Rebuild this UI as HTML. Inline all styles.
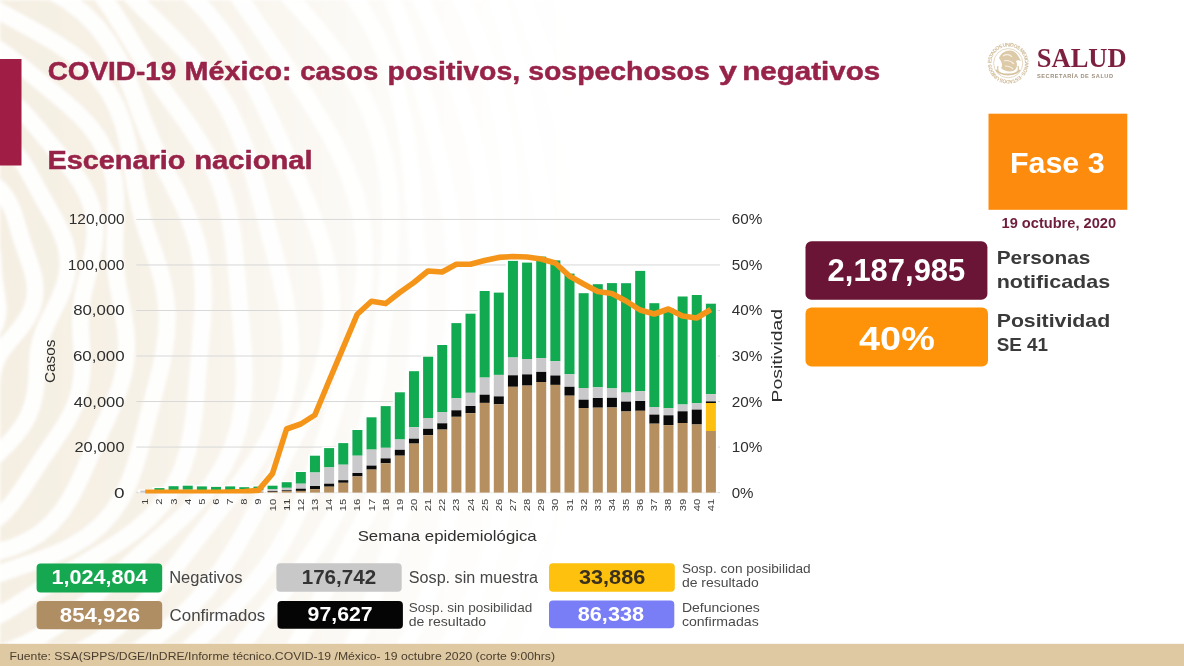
<!DOCTYPE html>
<html><head><meta charset="utf-8"><title>COVID-19 México</title>
<style>
html,body{margin:0;padding:0;background:#fff;}
body{width:1184px;height:666px;overflow:hidden;font-family:"Liberation Sans",sans-serif;}
svg{display:block;}
</style></head><body>
<svg width="1184" height="666" viewBox="0 0 1184 666">
<defs><linearGradient id="fadeg" x1="0" y1="0" x2="1184" y2="0" gradientUnits="userSpaceOnUse"><stop offset="0" stop-color="#fff" stop-opacity="1"/><stop offset="0.1" stop-color="#fff" stop-opacity="0.9"/><stop offset="0.2" stop-color="#fff" stop-opacity="0.62"/><stop offset="0.3" stop-color="#fff" stop-opacity="0.32"/><stop offset="0.4" stop-color="#fff" stop-opacity="0.1"/><stop offset="0.5" stop-color="#fff" stop-opacity="0"/></linearGradient><filter id="soft" x="-0.05" y="-0.05" width="1.1" height="1.1"><feGaussianBlur stdDeviation="1.6"/></filter><mask id="fadem" maskUnits="userSpaceOnUse" x="0" y="0" width="1184" height="666"><rect x="0" y="0" width="1184" height="666" fill="url(#fadeg)"/></mask></defs>
<rect x="0" y="0" width="1184" height="666" fill="#ffffff"/>
<g mask="url(#fadem)"><g filter="url(#soft)">
<rect x="0" y="0" width="760" height="644" fill="#f5efe3"/>
<path d="M -150.0,157.2 L -142.6,159.2 L -135.4,160.6 L -128.1,161.7 L -120.8,162.7 L -113.6,164.3 L -106.7,166.8 L -100.3,170.6 L -94.6,175.5 L -89.6,181.4 L -85.2,187.7 L -81.2,194.0 L -77.1,199.7 L -72.5,204.4 L -67.1,208.0 L -60.7,210.7 L -53.2,212.8 L -44.9,214.9 L -36.4,217.5 L -28.3,221.0 L -21.2,225.6 L -15.5,231.5 L -11.4,238.3 L -8.8,245.8 L -7.5,253.7 L -6.9,261.6 L -6.5,269.5 L -5.9,277.2 L -4.9,284.8 L -3.7,292.3 L -2.5,300.0 L -1.8,307.8 L -2.2,315.5 L -4.0,323.1 L -7.6,330.3 L -12.7,336.8 L -19.0,342.6 L -25.9,347.6 L -32.8,352.2 L -38.9,356.6 L -43.8,361.3 L -47.5,366.6 L -49.9,372.7 L -51.6,379.7 L -53.0,387.3 L -54.8,395.2 L -57.3,402.9 L -61.0,409.9 L -65.8,415.9 L -71.5,420.8 L -78.0,424.7 L -84.8,427.9 L -91.7,430.9 L -98.6,434.0 L -105.3,437.5 L -112.1,441.5 L -119.0,445.8 L -126.3,449.8 L -133.9,453.0 L -141.9,454.7 L -150.0,454.6" fill="none" stroke="#ffffff" stroke-width="17" opacity="0.9"/>
<path d="M -150.0,122.7 L -140.7,122.7 L -131.4,123.4 L -122.4,125.5 L -113.6,128.9 L -105.5,133.8 L -97.9,139.7 L -90.9,146.1 L -84.3,152.4 L -77.6,158.0 L -70.6,162.6 L -62.9,166.0 L -54.4,168.4 L -45.0,170.3 L -35.0,172.3 L -25.0,175.0 L -15.3,178.7 L -6.6,183.9 L 0.8,190.5 L 6.7,198.3 L 11.2,206.9 L 14.7,216.1 L 17.5,225.4 L 20.2,234.7 L 23.1,243.8 L 26.2,252.8 L 29.4,261.9 L 32.4,271.1 L 34.5,280.6 L 35.3,290.3 L 34.4,300.0 L 31.5,309.5 L 26.9,318.6 L 21.1,327.1 L 14.6,335.0 L 8.2,342.4 L 2.5,349.6 L -1.9,356.8 L -5.1,364.5 L -7.1,372.8 L -8.5,381.7 L -9.8,391.1 L -11.5,400.6 L -14.3,409.9 L -18.4,418.5 L -23.8,426.2 L -30.2,433.0 L -37.5,438.9 L -45.1,444.3 L -52.9,449.6 L -60.5,455.1 L -68.0,460.9 L -75.6,467.2 L -83.4,473.5 L -91.7,479.4 L -100.6,484.2 L -110.2,487.4 L -120.1,488.6 L -130.3,487.5 L -140.3,484.4 L -150.0,479.7" fill="none" stroke="#ffffff" stroke-width="17" opacity="0.9"/>
<path d="M -150.0,86.7 L -139.0,89.3 L -128.3,93.4 L -118.1,98.6 L -108.4,104.3 L -99.1,109.9 L -89.8,114.7 L -80.3,118.4 L -70.3,121.0 L -59.6,122.6 L -48.3,123.8 L -36.5,125.2 L -24.7,127.5 L -13.3,131.1 L -2.7,136.4 L 6.7,143.3 L 14.8,151.6 L 21.7,160.9 L 27.8,170.8 L 33.4,180.9 L 38.8,191.0 L 44.4,201.0 L 50.1,210.9 L 55.8,221.0 L 60.9,231.5 L 65.0,242.4 L 67.5,253.8 L 68.1,265.5 L 66.6,277.2 L 63.3,288.8 L 58.7,300.0 L 53.4,310.7 L 48.2,320.8 L 43.8,330.7 L 40.5,340.5 L 38.4,350.5 L 37.4,360.9 L 36.9,371.7 L 36.3,382.9 L 34.9,394.2 L 32.3,405.3 L 28.3,415.8 L 22.8,425.6 L 16.2,434.6 L 8.7,442.9 L 0.8,450.8 L -7.1,458.7 L -14.9,466.9 L -22.6,475.4 L -30.4,484.1 L -38.7,492.8 L -47.6,500.9 L -57.5,507.9 L -68.2,513.0 L -79.8,516.0 L -91.9,516.7 L -104.2,515.4 L -116.3,512.5 L -128.1,508.7 L -139.3,504.9 L -150.0,501.5" fill="none" stroke="#ffffff" stroke-width="17" opacity="0.9"/>
<path d="M -150.0,60.8 L -137.7,65.0 L -125.7,69.1 L -114.0,72.4 L -102.1,74.6 L -89.9,75.7 L -77.2,75.9 L -64.0,75.9 L -50.4,76.2 L -36.7,77.7 L -23.4,80.7 L -10.8,85.6 L 0.9,92.3 L 11.5,100.5 L 21.2,109.9 L 30.2,119.8 L 38.8,130.0 L 47.3,140.2 L 55.9,150.4 L 64.5,160.7 L 73.0,171.3 L 80.7,182.5 L 87.1,194.4 L 91.9,207.2 L 94.5,220.5 L 95.1,234.3 L 93.7,248.2 L 91.1,261.8 L 87.8,275.0 L 84.6,287.7 L 82.1,300.0 L 80.7,312.1 L 80.4,324.2 L 81.0,336.6 L 81.8,349.3 L 82.3,362.3 L 81.9,375.3 L 80.0,388.3 L 76.6,400.9 L 71.5,412.9 L 65.3,424.3 L 58.2,435.2 L 50.9,445.9 L 43.4,456.6 L 36.2,467.6 L 28.9,478.9 L 21.4,490.4 L 13.3,501.7 L 4.2,512.3 L -6.1,521.6 L -17.7,529.1 L -30.5,534.5 L -44.2,537.6 L -58.4,538.7 L -72.6,538.3 L -86.5,537.1 L -99.9,535.7 L -112.8,534.8 L -125.3,534.7 L -137.7,535.4 L -150.0,536.7" fill="none" stroke="#ffffff" stroke-width="17" opacity="0.9"/>
<path d="M -150.0,33.9 L -136.1,33.9 L -121.9,32.8 L -107.4,31.1 L -92.5,29.3 L -77.2,28.1 L -61.7,28.3 L -46.4,30.2 L -31.6,34.2 L -17.5,40.0 L -4.2,47.5 L 8.3,56.2 L 20.4,65.5 L 32.2,75.0 L 43.9,84.6 L 55.7,94.3 L 67.5,104.2 L 78.9,114.7 L 89.4,126.0 L 98.6,138.5 L 106.0,152.2 L 111.3,166.9 L 114.5,182.2 L 115.8,198.0 L 115.8,213.6 L 115.2,228.9 L 114.7,243.7 L 114.9,258.1 L 116.0,272.0 L 118.0,286.0 L 120.7,300.0 L 123.4,314.3 L 125.6,329.0 L 126.6,343.8 L 126.0,358.7 L 123.6,373.3 L 119.7,387.6 L 114.5,401.5 L 108.6,415.2 L 102.4,428.6 L 96.3,442.2 L 90.2,456.0 L 84.1,470.1 L 77.6,484.3 L 70.2,498.3 L 61.6,511.6 L 51.3,523.6 L 39.3,533.8 L 25.8,541.9 L 11.0,548.0 L -4.5,552.1 L -20.2,554.8 L -35.7,556.7 L -50.8,558.5 L -65.3,560.7 L -79.4,563.4 L -93.3,566.8 L -107.2,570.4 L -121.2,573.8 L -135.5,576.5 L -150.0,577.9" fill="none" stroke="#ffffff" stroke-width="17" opacity="0.9"/>
<path d="M -150.0,-8.9 L -133.6,-12.9 L -116.8,-16.1 L -99.7,-17.8 L -82.5,-17.5 L -65.6,-15.1 L -49.0,-10.7 L -33.1,-4.7 L -17.6,2.5 L -2.4,10.4 L 12.5,18.5 L 27.5,26.7 L 42.5,35.1 L 57.4,43.9 L 71.8,53.6 L 85.4,64.6 L 97.7,77.0 L 108.1,91.0 L 116.4,106.4 L 122.7,122.9 L 127.3,139.9 L 130.6,157.0 L 133.3,173.9 L 136.1,190.2 L 139.5,205.9 L 143.6,221.3 L 148.5,236.5 L 153.8,251.9 L 158.9,267.5 L 163.2,283.6 L 166.1,300.0 L 167.3,316.6 L 166.7,333.3 L 164.5,349.8 L 161.2,366.1 L 157.1,382.3 L 152.9,398.4 L 148.7,414.7 L 144.6,431.2 L 140.3,447.9 L 135.4,464.8 L 129.4,481.5 L 121.8,497.5 L 112.2,512.3 L 100.4,525.5 L 86.8,536.8 L 71.6,546.1 L 55.5,553.7 L 38.9,560.0 L 22.5,565.6 L 6.5,571.1 L -9.0,576.7 L -24.1,582.8 L -39.0,589.2 L -53.9,595.7 L -69.2,601.6 L -84.8,606.6 L -100.9,610.1 L -117.2,612.0 L -133.6,612.4 L -150.0,611.6" fill="none" stroke="#ffffff" stroke-width="17" opacity="0.9"/>
<path d="M -150.0,-57.7 L -131.2,-59.7 L -112.2,-59.4 L -93.4,-57.1 L -74.9,-53.2 L -56.7,-48.3 L -38.7,-42.7 L -20.7,-36.8 L -2.7,-30.8 L 15.3,-24.4 L 33.2,-17.4 L 50.7,-9.1 L 67.4,0.8 L 82.8,12.5 L 96.5,26.3 L 108.2,41.8 L 118.1,58.6 L 126.4,76.2 L 133.5,94.1 L 140.0,111.7 L 146.6,128.8 L 153.6,145.3 L 161.2,161.4 L 169.4,177.4 L 177.7,193.5 L 185.5,210.1 L 192.4,227.2 L 197.7,244.9 L 201.3,263.1 L 203.0,281.5 L 203.3,300.0 L 202.4,318.5 L 201.0,336.9 L 199.4,355.3 L 197.9,373.9 L 196.4,392.8 L 194.6,412.0 L 192.0,431.3 L 188.0,450.5 L 182.0,469.1 L 173.6,486.8 L 162.8,503.1 L 149.7,517.8 L 134.9,530.7 L 118.9,542.1 L 102.4,552.4 L 85.9,562.0 L 69.8,571.4 L 54.1,580.9 L 38.7,590.6 L 23.5,600.4 L 8.0,610.1 L -8.0,619.0 L -24.6,626.7 L -41.8,632.9 L -59.6,637.4 L -77.7,640.4 L -95.8,642.2 L -113.9,643.4 L -131.9,644.6 L -150.0,646.0" fill="none" stroke="#ffffff" stroke-width="17" opacity="0.9"/>
<path d="M -150.0,-96.4 L -129.3,-95.4 L -108.7,-93.4 L -88.1,-90.8 L -67.5,-88.0 L -46.9,-84.9 L -26.1,-81.2 L -5.4,-76.6 L 15.0,-70.5 L 34.6,-62.4 L 53.2,-52.0 L 70.3,-39.2 L 85.7,-24.4 L 99.4,-8.0 L 111.7,9.4 L 122.9,27.1 L 133.6,44.7 L 144.2,61.8 L 155.2,78.3 L 166.6,94.4 L 178.3,110.5 L 189.9,126.8 L 200.8,143.8 L 210.6,161.6 L 218.9,180.2 L 225.3,199.4 L 230.0,219.2 L 233.3,239.3 L 235.6,259.5 L 237.4,279.7 L 239.1,300.0 L 241.0,320.5 L 242.7,341.3 L 244.0,362.4 L 244.3,383.8 L 242.8,405.3 L 239.1,426.4 L 232.6,446.9 L 223.5,466.3 L 211.8,484.3 L 198.1,501.0 L 183.2,516.4 L 167.6,530.7 L 151.9,544.5 L 136.5,558.0 L 121.5,571.5 L 106.6,585.0 L 91.7,598.5 L 76.3,611.5 L 60.2,623.7 L 43.1,634.5 L 25.2,643.8 L 6.5,651.4 L -12.7,657.6 L -32.1,662.7 L -51.6,667.3 L -70.9,671.9 L -90.3,676.9 L -109.8,682.3 L -129.7,688.1 L -150.0,693.6" fill="none" stroke="#ffffff" stroke-width="17" opacity="0.9"/>
<path d="M -150.0,-131.2 L -127.4,-132.0 L -104.5,-132.5 L -81.5,-132.2 L -58.4,-130.7 L -35.5,-127.4 L -13.0,-121.7 L 8.7,-113.4 L 29.2,-102.4 L 48.2,-89.1 L 65.9,-73.9 L 82.3,-57.7 L 97.7,-41.0 L 112.7,-24.4 L 127.6,-8.3 L 142.6,7.4 L 157.9,22.7 L 173.3,38.2 L 188.4,54.1 L 202.8,70.9 L 215.9,88.8 L 227.4,107.7 L 237.1,127.6 L 245.3,148.3 L 252.1,169.3 L 258.1,190.6 L 263.8,212.0 L 269.4,233.6 L 275.1,255.3 L 280.7,277.4 L 285.6,300.0 L 289.2,323.0 L 290.9,346.3 L 290.0,369.7 L 286.2,392.7 L 279.4,415.0 L 269.9,436.4 L 258.3,456.7 L 245.3,476.0 L 231.5,494.4 L 217.6,512.3 L 203.9,529.8 L 190.4,547.3 L 176.9,564.7 L 163.1,581.9 L 148.5,598.5 L 132.8,614.1 L 115.9,628.4 L 97.8,641.1 L 78.7,652.2 L 59.0,662.1 L 39.0,670.9 L 18.9,679.4 L -1.1,687.9 L -21.1,696.8 L -41.2,706.2 L -61.6,715.7 L -82.7,724.8 L -104.5,732.9 L -127.0,739.1 L -150.0,742.8" fill="none" stroke="#ffffff" stroke-width="17" opacity="0.9"/>
<path d="M -150.0,-174.4 L -125.0,-176.6 L -99.9,-176.7 L -74.9,-174.1 L -50.4,-168.6 L -26.7,-160.1 L -4.1,-149.1 L 17.4,-136.2 L 37.9,-122.0 L 57.6,-107.3 L 76.7,-92.7 L 95.8,-78.5 L 114.9,-64.5 L 134.0,-50.8 L 153.2,-36.7 L 171.9,-21.9 L 189.7,-5.9 L 206.3,11.5 L 221.4,30.2 L 234.9,50.1 L 246.9,70.9 L 257.7,92.3 L 267.9,113.9 L 277.9,135.8 L 287.8,157.8 L 297.8,180.0 L 307.5,202.8 L 316.4,226.1 L 323.9,250.2 L 329.2,274.9 L 331.7,300.0 L 331.1,325.2 L 327.4,350.2 L 321.0,374.6 L 312.3,398.3 L 302.2,421.2 L 291.3,443.4 L 280.1,465.1 L 269.0,486.5 L 257.9,507.8 L 246.5,528.9 L 234.5,549.7 L 221.4,569.8 L 206.9,589.0 L 190.8,606.9 L 173.3,623.3 L 154.6,638.3 L 135.1,652.1 L 115.3,665.1 L 95.3,677.8 L 75.5,690.6 L 55.7,703.7 L 35.8,717.2 L 15.4,730.8 L -5.8,743.9 L -27.9,755.7 L -51.0,765.6 L -75.1,772.9 L -99.8,777.2 L -124.9,778.6 L -150.0,777.4" fill="none" stroke="#ffffff" stroke-width="17" opacity="0.9"/>
<path d="M -150.0,-216.5 L -123.0,-214.4 L -96.5,-209.3 L -70.6,-201.5 L -45.5,-191.7 L -21.2,-180.5 L 2.3,-168.8 L 25.5,-157.1 L 48.4,-145.6 L 71.3,-134.3 L 94.2,-123.0 L 116.9,-111.0 L 139.2,-98.0 L 160.6,-83.5 L 180.8,-67.4 L 199.7,-49.7 L 217.1,-30.5 L 233.2,-10.3 L 248.4,10.6 L 263.0,31.8 L 277.5,53.2 L 292.0,74.8 L 306.6,96.7 L 320.7,119.3 L 334.0,142.7 L 345.7,167.2 L 355.0,192.7 L 361.5,219.0 L 364.7,245.9 L 364.8,273.0 L 362.1,300.0 L 357.3,326.6 L 350.9,352.6 L 343.7,378.2 L 336.2,403.3 L 328.5,428.2 L 320.6,452.9 L 312.2,477.4 L 302.7,501.6 L 291.9,525.2 L 279.3,547.8 L 264.8,569.4 L 248.7,589.6 L 231.1,608.6 L 212.7,626.6 L 193.9,643.9 L 175.0,660.9 L 156.2,678.1 L 137.5,695.7 L 118.5,713.5 L 99.0,731.3 L 78.5,748.4 L 56.7,764.3 L 33.5,778.1 L 9.0,789.4 L -16.6,797.7 L -43.0,803.2 L -69.8,806.1 L -96.7,807.0 L -123.5,806.4 L -150.0,804.8" fill="none" stroke="#ffffff" stroke-width="17" opacity="0.9"/>
<path d="M -150.0,-243.2 L -121.8,-237.3 L -94.3,-230.2 L -67.3,-222.4 L -40.7,-214.4 L -14.3,-206.6 L 12.1,-198.8 L 38.3,-190.6 L 64.4,-181.5 L 90.0,-171.0 L 114.9,-158.8 L 138.8,-144.7 L 161.4,-128.7 L 182.9,-111.1 L 203.2,-92.3 L 222.9,-72.9 L 242.1,-53.0 L 261.2,-33.0 L 280.4,-12.7 L 299.6,8.0 L 318.3,29.6 L 336.1,52.3 L 352.2,76.4 L 365.9,102.0 L 376.7,128.9 L 384.3,156.8 L 388.9,185.5 L 390.7,214.4 L 390.3,243.2 L 388.5,271.8 L 385.9,300.0 L 382.7,327.9 L 379.3,355.6 L 375.4,383.2 L 370.6,410.7 L 364.5,437.9 L 356.7,464.6 L 346.7,490.7 L 334.6,515.8 L 320.6,539.8 L 305.1,562.8 L 288.7,584.9 L 271.8,606.5 L 254.9,627.9 L 238.1,649.5 L 221.3,671.3 L 204.2,693.4 L 186.4,715.4 L 167.3,736.7 L 146.6,756.7 L 124.1,774.7 L 99.8,790.2 L 73.9,803.0 L 46.9,813.0 L 19.2,820.7 L -9.0,826.4 L -37.2,830.7 L -65.4,834.2 L -93.6,836.9 L -121.8,839.0 L -150.0,840.1" fill="none" stroke="#ffffff" stroke-width="17" opacity="0.9"/>
<path d="M -150.0,-264.9 L -120.6,-261.6 L -91.3,-258.2 L -62.2,-254.6 L -33.0,-250.3 L -4.0,-244.8 L 24.7,-237.6 L 52.8,-228.4 L 80.2,-217.0 L 106.5,-203.5 L 131.9,-188.3 L 156.5,-172.0 L 180.5,-154.9 L 204.2,-137.4 L 227.9,-119.7 L 251.7,-101.7 L 275.4,-83.1 L 298.7,-63.4 L 321.0,-42.2 L 341.6,-19.3 L 359.9,5.6 L 375.4,32.3 L 387.8,60.6 L 397.2,89.9 L 404.1,120.0 L 409.0,150.2 L 412.4,180.5 L 415.0,210.5 L 416.9,240.4 L 418.4,270.2 L 419.1,300.0 L 418.7,329.8 L 416.6,359.6 L 412.4,389.1 L 405.8,418.1 L 396.9,446.5 L 385.9,474.1 L 373.4,500.9 L 359.9,527.0 L 345.9,552.7 L 332.0,578.3 L 318.1,604.0 L 304.2,630.0 L 289.8,656.1 L 274.4,682.1 L 257.5,707.5 L 238.6,731.6 L 217.5,753.9 L 194.2,773.8 L 169.0,791.3 L 142.3,806.2 L 114.5,819.0 L 86.0,830.1 L 57.2,839.8 L 28.3,848.7 L -0.8,856.8 L -30.1,864.1 L -59.7,870.2 L -89.6,874.6 L -119.8,876.9 L -150.0,876.5" fill="none" stroke="#ffffff" stroke-width="17" opacity="0.9"/>
<path d="M -150.0,-298.6 L -118.6,-298.9 L -87.2,-297.6 L -55.9,-294.4 L -24.8,-288.8 L 5.7,-280.9 L 35.5,-270.8 L 64.6,-259.0 L 93.1,-246.0 L 121.2,-232.2 L 149.1,-218.1 L 177.1,-203.7 L 205.2,-188.9 L 233.2,-173.2 L 260.9,-156.3 L 287.5,-137.5 L 312.6,-116.6 L 335.6,-93.2 L 355.9,-67.5 L 373.4,-39.9 L 388.1,-10.7 L 400.5,19.5 L 411.0,50.2 L 420.2,81.1 L 428.5,112.0 L 436.1,143.0 L 443.0,174.0 L 448.9,205.1 L 453.4,236.6 L 455.9,268.2 L 456.0,300.0 L 453.5,331.6 L 448.6,362.9 L 441.4,393.7 L 432.7,423.9 L 423.0,453.5 L 412.9,482.9 L 402.8,512.2 L 392.8,541.7 L 382.6,571.4 L 371.7,601.2 L 359.6,631.0 L 345.7,660.1 L 329.4,688.2 L 310.6,714.7 L 289.1,739.1 L 265.4,761.4 L 239.9,781.4 L 213.0,799.6 L 185.3,816.3 L 157.0,831.7 L 128.4,846.4 L 99.4,860.2 L 70.0,873.0 L 39.9,884.4 L 9.2,894.0 L -22.2,901.1 L -54.1,905.5 L -86.2,906.8 L -118.3,905.5 L -150.0,901.8" fill="none" stroke="#ffffff" stroke-width="17" opacity="0.9"/>
<path d="M -150.0,-338.2 L -116.6,-337.0 L -83.4,-333.4 L -50.6,-327.5 L -18.2,-319.8 L 13.7,-311.0 L 45.4,-301.5 L 77.1,-291.6 L 108.9,-281.5 L 140.8,-270.7 L 172.7,-259.0 L 204.4,-245.7 L 235.2,-230.1 L 264.6,-212.0 L 292.1,-191.0 L 317.3,-167.3 L 340.0,-141.2 L 360.2,-113.2 L 378.4,-83.9 L 394.8,-53.8 L 410.1,-23.4 L 424.4,7.3 L 438.0,38.2 L 450.6,69.4 L 462.1,101.1 L 471.9,133.4 L 479.5,166.2 L 484.5,199.5 L 486.8,233.1 L 486.5,266.6 L 484.0,300.0 L 480.0,333.0 L 475.0,365.7 L 469.6,398.1 L 464.2,430.6 L 458.8,463.1 L 453.1,496.0 L 446.6,529.0 L 438.5,562.0 L 428.3,594.7 L 415.4,626.4 L 399.6,656.9 L 380.9,685.7 L 359.7,712.7 L 336.4,737.9 L 311.5,761.5 L 285.6,783.8 L 259.0,805.1 L 231.8,825.5 L 204.0,845.1 L 175.4,863.7 L 145.9,880.7 L 115.2,895.7 L 83.4,908.1 L 50.7,917.6 L 17.2,924.1 L -16.5,927.9 L -50.3,929.3 L -83.9,929.1 L -117.1,928.0 L -150.0,926.6" fill="none" stroke="#ffffff" stroke-width="17" opacity="0.9"/>
<path d="M -150.0,-370.3 L -115.0,-367.7 L -80.2,-363.9 L -45.5,-359.5 L -10.8,-354.8 L 24.1,-349.6 L 59.2,-343.8 L 94.4,-336.7 L 129.5,-327.8 L 164.0,-316.3 L 197.4,-301.8 L 229.3,-284.1 L 259.2,-263.3 L 287.1,-239.7 L 312.8,-214.0 L 336.8,-186.8 L 359.3,-158.5 L 380.6,-129.7 L 401.1,-100.4 L 420.7,-70.6 L 439.4,-40.3 L 456.6,-9.1 L 472.1,23.0 L 485.1,56.2 L 495.5,90.3 L 503.1,125.0 L 508.1,160.1 L 511.0,195.3 L 512.3,230.4 L 512.8,265.3 L 512.9,300.0 L 513.0,334.7 L 512.9,369.7 L 512.4,404.9 L 510.8,440.5 L 507.5,476.2 L 501.7,511.8 L 493.0,546.8 L 481.1,581.0 L 466.0,613.9 L 448.2,645.4 L 428.2,675.5 L 406.4,704.3 L 383.5,732.0 L 359.7,759.0 L 335.1,785.1 L 309.6,810.5 L 283.0,834.7 L 254.9,857.3 L 225.3,877.8 L 194.0,895.8 L 161.3,910.9 L 127.4,923.0 L 92.8,932.4 L 57.8,939.6 L 22.9,945.2 L -11.8,950.0 L -46.4,954.4 L -80.8,958.8 L -115.2,963.1 L -150.0,967.0" fill="none" stroke="#ffffff" stroke-width="17" opacity="0.9"/>
<path d="M -150.0,-403.1 L -113.1,-404.2 L -75.9,-404.8 L -38.4,-404.6 L -0.6,-402.9 L 37.3,-399.0 L 75.0,-392.3 L 111.9,-382.3 L 147.7,-368.7 L 182.1,-351.8 L 214.8,-331.9 L 245.9,-309.6 L 275.4,-285.5 L 303.7,-260.3 L 331.1,-234.3 L 357.6,-207.6 L 383.2,-180.1 L 407.8,-151.7 L 430.9,-122.1 L 452.1,-91.0 L 470.9,-58.5 L 487.0,-24.6 L 500.3,10.5 L 511.2,46.2 L 520.0,82.3 L 527.3,118.5 L 533.8,154.6 L 540.0,190.7 L 546.1,226.8 L 552.0,263.2 L 557.2,300.0 L 561.2,337.3 L 563.2,375.0 L 562.5,412.8 L 558.6,450.6 L 551.4,487.9 L 540.8,524.5 L 527.5,560.0 L 511.7,594.6 L 494.2,628.2 L 475.4,661.1 L 455.6,693.3 L 434.7,724.8 L 412.5,755.5 L 388.9,785.2 L 363.3,813.3 L 335.7,839.4 L 305.9,863.0 L 274.2,883.9 L 240.9,901.9 L 206.4,917.4 L 171.4,930.7 L 136.1,942.6 L 100.9,953.7 L 65.9,964.4 L 30.9,975.0 L -4.3,985.4 L -39.9,995.1 L -76.0,1003.7 L -112.8,1010.4 L -150.0,1014.7" fill="none" stroke="#ffffff" stroke-width="17" opacity="0.9"/>
<path d="M -150.0,-449.9 L -110.5,-454.1 L -70.5,-456.0 L -30.5,-454.7 L 9.4,-449.9 L 48.6,-441.3 L 86.9,-429.2 L 124.0,-413.9 L 159.9,-396.1 L 194.7,-376.4 L 228.4,-355.4 L 261.4,-333.4 L 293.5,-310.5 L 324.9,-286.5 L 355.2,-261.1 L 384.0,-234.0 L 410.9,-205.1 L 435.5,-174.1 L 457.5,-141.4 L 476.9,-107.1 L 493.9,-71.8 L 509.0,-35.8 L 522.8,0.4 L 535.8,36.7 L 548.5,73.0 L 561.1,109.5 L 573.3,146.3 L 584.7,183.6 L 594.6,221.7 L 602.4,260.6 L 607.4,300.0 L 609.0,339.8 L 607.1,379.6 L 602.0,419.1 L 593.9,458.1 L 583.5,496.5 L 571.2,534.3 L 557.6,571.6 L 542.7,608.4 L 526.6,644.8 L 508.9,680.4 L 489.3,715.2 L 467.3,748.5 L 442.7,779.9 L 415.4,809.1 L 385.8,835.8 L 354.1,859.8 L 320.9,881.5 L 286.9,901.3 L 252.5,919.8 L 218.0,937.5 L 183.6,954.7 L 149.1,971.8 L 114.3,988.5 L 78.9,1004.4 L 42.6,1018.9 L 5.5,1031.4 L -32.6,1041.3 L -71.4,1048.3 L -110.6,1052.2 L -150.0,1053.3" fill="none" stroke="#ffffff" stroke-width="17" opacity="0.9"/>
<path d="M -150.0,-500.2 L -108.0,-501.2 L -66.1,-498.4 L -24.6,-491.9 L 16.3,-482.3 L 56.3,-470.0 L 95.6,-455.8 L 134.1,-440.1 L 172.0,-423.3 L 209.3,-405.2 L 245.9,-385.7 L 281.5,-364.4 L 315.7,-341.0 L 348.2,-315.2 L 378.5,-286.9 L 406.4,-256.4 L 431.9,-224.0 L 455.3,-190.1 L 476.9,-155.5 L 497.3,-120.4 L 517.1,-85.1 L 536.5,-49.8 L 555.7,-14.2 L 574.4,21.9 L 592.3,58.8 L 608.5,96.8 L 622.4,135.8 L 633.4,175.9 L 641.1,216.9 L 645.3,258.3 L 646.2,300.0 L 644.3,341.6 L 640.0,383.0 L 634.0,424.2 L 626.5,465.0 L 617.6,505.7 L 607.2,546.0 L 594.9,585.9 L 580.2,625.1 L 562.8,663.2 L 542.2,699.6 L 518.5,734.1 L 492.0,766.4 L 463.1,796.4 L 432.4,824.4 L 400.7,850.7 L 368.4,875.7 L 335.9,900.0 L 303.3,923.9 L 270.5,947.5 L 237.1,970.5 L 202.9,992.7 L 167.6,1013.4 L 131.0,1031.9 L 93.0,1047.9 L 53.9,1060.9 L 13.9,1071.0 L -26.7,1078.4 L -67.7,1083.5 L -108.8,1086.8 L -150.0,1088.7" fill="none" stroke="#ffffff" stroke-width="17" opacity="0.9"/>
<path d="M -150.0,-536.8 L -106.3,-533.6 L -63.0,-527.9 L -20.1,-520.1 L 22.3,-510.8 L 64.4,-500.1 L 106.0,-487.9 L 147.1,-473.9 L 187.4,-457.7 L 226.5,-439.0 L 264.1,-417.3 L 299.9,-392.8 L 333.5,-365.5 L 365.1,-336.1 L 394.7,-305.0 L 422.9,-272.9 L 450.0,-240.2 L 476.4,-207.3 L 502.6,-174.1 L 528.4,-140.6 L 553.7,-106.3 L 578.1,-71.0 L 600.7,-34.2 L 621.0,4.0 L 638.4,43.8 L 652.4,85.0 L 663.2,127.2 L 670.8,170.0 L 675.7,213.2 L 678.4,256.6 L 679.3,300.0 L 678.7,343.4 L 676.6,386.9 L 672.8,430.3 L 666.7,473.6 L 657.9,516.5 L 645.8,558.6 L 630.3,599.5 L 611.2,638.9 L 588.9,676.5 L 563.9,712.2 L 537.0,746.1 L 508.8,778.6 L 479.8,810.0 L 450.6,840.8 L 421.1,871.1 L 391.2,901.0 L 360.5,930.4 L 328.6,958.7 L 295.2,985.5 L 260.1,1010.3 L 223.2,1032.4 L 184.7,1051.8 L 145.0,1068.5 L 104.3,1082.6 L 62.9,1094.6 L 21.1,1105.0 L -21.1,1114.1 L -63.6,1122.0 L -106.6,1128.5 L -150.0,1133.2" fill="none" stroke="#ffffff" stroke-width="17" opacity="0.9"/>
<path d="M -150.0,-566.1 L -104.7,-563.9 L -59.6,-560.2 L -14.6,-554.8 L 30.1,-547.2 L 74.3,-537.1 L 117.7,-523.9 L 159.9,-507.4 L 200.7,-487.6 L 239.7,-464.8 L 277.0,-439.5 L 312.6,-412.4 L 347.0,-384.1 L 380.5,-355.1 L 413.4,-325.7 L 446.0,-296.0 L 478.3,-265.7 L 510.0,-234.5 L 540.7,-201.8 L 569.7,-167.4 L 596.4,-130.9 L 620.3,-92.5 L 641.1,-52.2 L 658.7,-10.4 L 673.4,32.4 L 685.7,76.1 L 695.8,120.2 L 704.3,164.7 L 711.3,209.5 L 716.6,254.6 L 720.0,300.0 L 720.8,345.6 L 718.6,391.3 L 712.8,436.6 L 703.1,481.3 L 689.6,525.0 L 672.6,567.3 L 652.7,608.1 L 630.7,647.6 L 607.2,685.8 L 583.0,723.2 L 558.2,759.9 L 533.0,796.3 L 507.2,832.2 L 480.2,867.4 L 451.7,901.7 L 421.3,934.5 L 388.8,965.3 L 354.1,993.8 L 317.3,1019.6 L 279.0,1043.0 L 239.3,1064.1 L 198.8,1083.4 L 157.5,1101.2 L 115.7,1117.8 L 73.3,1133.2 L 30.1,1147.2 L -13.9,1159.3 L -58.7,1168.8 L -104.1,1175.1 L -150.0,1177.5" fill="none" stroke="#ffffff" stroke-width="17" opacity="0.9"/>
<path d="M -150.0,-602.5 L -102.7,-602.1 L -55.5,-598.8 L -8.7,-592.0 L 37.4,-581.5 L 82.4,-567.5 L 126.2,-550.2 L 168.7,-530.2 L 209.9,-508.2 L 250.0,-485.0 L 289.3,-460.9 L 328.2,-436.4 L 366.8,-411.4 L 405.1,-385.5 L 442.9,-358.4 L 479.6,-329.6 L 514.7,-298.5 L 547.7,-265.0 L 578.1,-229.0 L 605.6,-190.7 L 630.4,-150.5 L 652.5,-108.9 L 672.3,-66.1 L 690.3,-22.6 L 706.7,21.7 L 721.5,66.5 L 734.7,112.0 L 745.7,158.1 L 754.0,205.0 L 759.0,252.4 L 760.1,300.0 L 757.1,347.5 L 750.1,394.6 L 739.4,440.9 L 725.7,486.1 L 709.7,530.4 L 692.2,573.7 L 673.8,616.2 L 654.7,658.3 L 635.0,700.0 L 614.3,741.3 L 592.2,782.0 L 568.2,821.8 L 541.8,860.2 L 512.9,896.9 L 481.4,931.4 L 447.6,963.7 L 411.8,993.8 L 374.5,1022.0 L 336.1,1048.5 L 296.8,1073.8 L 256.6,1098.0 L 215.6,1121.1 L 173.5,1142.7 L 130.2,1162.4 L 85.6,1179.3 L 39.8,1192.9 L -7.1,1202.5 L -54.6,1207.9 L -102.4,1209.0 L -150.0,1206.2" fill="none" stroke="#ffffff" stroke-width="17" opacity="0.9"/>
</g></g>
<rect x="0" y="59" width="21.5" height="106.5" fill="#a01d45"/>
<text x="47.7" y="80.1" font-family="Liberation Sans" font-size="26.5" font-weight="bold" fill="#982349" text-anchor="start" textLength="128.6" lengthAdjust="spacingAndGlyphs" stroke="#982349" stroke-width="0.5" stroke-linejoin="round">COVID-19</text>
<text x="184.5" y="80.1" font-family="Liberation Sans" font-size="26.5" font-weight="bold" fill="#982349" text-anchor="start" textLength="107.1" lengthAdjust="spacingAndGlyphs" stroke="#982349" stroke-width="0.5" stroke-linejoin="round">México:</text>
<text x="300.2" y="80.1" font-family="Liberation Sans" font-size="26.5" font-weight="bold" fill="#982349" text-anchor="start" textLength="78" lengthAdjust="spacingAndGlyphs" stroke="#982349" stroke-width="0.5" stroke-linejoin="round">casos</text>
<text x="387.6" y="80.1" font-family="Liberation Sans" font-size="26.5" font-weight="bold" fill="#982349" text-anchor="start" textLength="132.5" lengthAdjust="spacingAndGlyphs" stroke="#982349" stroke-width="0.5" stroke-linejoin="round">positivos,</text>
<text x="528.2" y="80.1" font-family="Liberation Sans" font-size="26.5" font-weight="bold" fill="#982349" text-anchor="start" textLength="181.6" lengthAdjust="spacingAndGlyphs" stroke="#982349" stroke-width="0.5" stroke-linejoin="round">sospechosos</text>
<text x="719" y="80.1" font-family="Liberation Sans" font-size="26.5" font-weight="bold" fill="#982349" text-anchor="start" textLength="18" lengthAdjust="spacingAndGlyphs" stroke="#982349" stroke-width="0.5" stroke-linejoin="round">y</text>
<text x="742.2" y="80.1" font-family="Liberation Sans" font-size="26.5" font-weight="bold" fill="#982349" text-anchor="start" textLength="138" lengthAdjust="spacingAndGlyphs" stroke="#982349" stroke-width="0.5" stroke-linejoin="round">negativos</text>
<text x="47.4" y="168.6" font-family="Liberation Sans" font-size="26.5" font-weight="bold" fill="#982349" text-anchor="start" textLength="137.9" lengthAdjust="spacingAndGlyphs" stroke="#982349" stroke-width="0.5" stroke-linejoin="round">Escenario</text>
<text x="194.3" y="168.6" font-family="Liberation Sans" font-size="26.5" font-weight="bold" fill="#982349" text-anchor="start" textLength="118.4" lengthAdjust="spacingAndGlyphs" stroke="#982349" stroke-width="0.5" stroke-linejoin="round">nacional</text>
<rect x="136.3" y="492.1" width="583.8" height="1" fill="#d8d8d8"/>
<rect x="136.3" y="446.57" width="583.8" height="1" fill="#d8d8d8"/>
<rect x="136.3" y="401.04" width="583.8" height="1" fill="#d8d8d8"/>
<rect x="136.3" y="355.51" width="583.8" height="1" fill="#d8d8d8"/>
<rect x="136.3" y="309.98" width="583.8" height="1" fill="#d8d8d8"/>
<rect x="136.3" y="264.45" width="583.8" height="1" fill="#d8d8d8"/>
<rect x="136.3" y="218.92" width="583.8" height="1" fill="#d8d8d8"/>
<text x="124.6" y="497.6" font-family="Liberation Sans" font-size="14" font-weight="normal" fill="#2f2f2f" text-anchor="end" textLength="10.6" lengthAdjust="spacingAndGlyphs">0</text>
<text x="731.7" y="497.6" font-family="Liberation Sans" font-size="14" font-weight="normal" fill="#2f2f2f" text-anchor="start" textLength="21.8" lengthAdjust="spacingAndGlyphs">0%</text>
<text x="124.6" y="452.07" font-family="Liberation Sans" font-size="14" font-weight="normal" fill="#2f2f2f" text-anchor="end" textLength="50.2" lengthAdjust="spacingAndGlyphs">20,000</text>
<text x="731.7" y="452.07" font-family="Liberation Sans" font-size="14" font-weight="normal" fill="#2f2f2f" text-anchor="start" textLength="30.6" lengthAdjust="spacingAndGlyphs">10%</text>
<text x="124.6" y="406.54" font-family="Liberation Sans" font-size="14" font-weight="normal" fill="#2f2f2f" text-anchor="end" textLength="50.8" lengthAdjust="spacingAndGlyphs">40,000</text>
<text x="731.7" y="406.54" font-family="Liberation Sans" font-size="14" font-weight="normal" fill="#2f2f2f" text-anchor="start" textLength="30.6" lengthAdjust="spacingAndGlyphs">20%</text>
<text x="124.6" y="361.01" font-family="Liberation Sans" font-size="14" font-weight="normal" fill="#2f2f2f" text-anchor="end" textLength="51.7" lengthAdjust="spacingAndGlyphs">60,000</text>
<text x="731.7" y="361.01" font-family="Liberation Sans" font-size="14" font-weight="normal" fill="#2f2f2f" text-anchor="start" textLength="30.6" lengthAdjust="spacingAndGlyphs">30%</text>
<text x="124.6" y="315.48" font-family="Liberation Sans" font-size="14" font-weight="normal" fill="#2f2f2f" text-anchor="end" textLength="51.4" lengthAdjust="spacingAndGlyphs">80,000</text>
<text x="731.7" y="315.48" font-family="Liberation Sans" font-size="14" font-weight="normal" fill="#2f2f2f" text-anchor="start" textLength="30.6" lengthAdjust="spacingAndGlyphs">40%</text>
<text x="124.6" y="269.95" font-family="Liberation Sans" font-size="14" font-weight="normal" fill="#2f2f2f" text-anchor="end" textLength="56.8" lengthAdjust="spacingAndGlyphs">100,000</text>
<text x="731.7" y="269.95" font-family="Liberation Sans" font-size="14" font-weight="normal" fill="#2f2f2f" text-anchor="start" textLength="30.6" lengthAdjust="spacingAndGlyphs">50%</text>
<text x="124.6" y="224.42" font-family="Liberation Sans" font-size="14" font-weight="normal" fill="#2f2f2f" text-anchor="end" textLength="55.9" lengthAdjust="spacingAndGlyphs">120,000</text>
<text x="731.7" y="224.42" font-family="Liberation Sans" font-size="14" font-weight="normal" fill="#2f2f2f" text-anchor="start" textLength="30.6" lengthAdjust="spacingAndGlyphs">60%</text>
<rect x="138.3" y="489.4" width="14" height="3.2" fill="#ffffff"/>
<rect x="140.3" y="490.6" width="10" height="2" fill="#c9c9cb"/>
<rect x="152.44" y="486.9" width="14" height="5.7" fill="#ffffff"/>
<rect x="154.44" y="488.1" width="10" height="2.5" fill="#11aa50"/>
<rect x="154.44" y="490.6" width="10" height="1.2" fill="#c9c9cb"/>
<rect x="154.44" y="491.8" width="10" height="0.8" fill="#b58f60"/>
<rect x="166.58" y="485" width="14" height="7.6" fill="#ffffff"/>
<rect x="168.58" y="486.2" width="10" height="3.8" fill="#11aa50"/>
<rect x="168.58" y="490" width="10" height="1.8" fill="#c9c9cb"/>
<rect x="168.58" y="491.8" width="10" height="0.8" fill="#b58f60"/>
<rect x="180.72" y="484.5" width="14" height="8.1" fill="#ffffff"/>
<rect x="182.72" y="485.7" width="10" height="4.1" fill="#11aa50"/>
<rect x="182.72" y="489.8" width="10" height="2" fill="#c9c9cb"/>
<rect x="182.72" y="491.8" width="10" height="0.8" fill="#b58f60"/>
<rect x="194.86" y="485.2" width="14" height="7.4" fill="#ffffff"/>
<rect x="196.86" y="486.4" width="10" height="3.6" fill="#11aa50"/>
<rect x="196.86" y="490" width="10" height="1.8" fill="#c9c9cb"/>
<rect x="196.86" y="491.8" width="10" height="0.8" fill="#b58f60"/>
<rect x="209" y="485.7" width="14" height="6.9" fill="#ffffff"/>
<rect x="211" y="486.9" width="10" height="3.3" fill="#11aa50"/>
<rect x="211" y="490.2" width="10" height="1.6" fill="#c9c9cb"/>
<rect x="211" y="491.8" width="10" height="0.8" fill="#b58f60"/>
<rect x="223.14" y="485.2" width="14" height="7.4" fill="#ffffff"/>
<rect x="225.14" y="486.4" width="10" height="3.6" fill="#11aa50"/>
<rect x="225.14" y="490" width="10" height="1.8" fill="#c9c9cb"/>
<rect x="225.14" y="491.8" width="10" height="0.8" fill="#b58f60"/>
<rect x="237.28" y="486" width="14" height="6.6" fill="#ffffff"/>
<rect x="239.28" y="487.2" width="10" height="3.2" fill="#11aa50"/>
<rect x="239.28" y="490.4" width="10" height="1.4" fill="#c9c9cb"/>
<rect x="239.28" y="491.8" width="10" height="0.8" fill="#b58f60"/>
<rect x="251.42" y="485.4" width="14" height="7.2" fill="#ffffff"/>
<rect x="253.42" y="486.6" width="10" height="3.4" fill="#11aa50"/>
<rect x="253.42" y="490" width="10" height="1.8" fill="#c9c9cb"/>
<rect x="253.42" y="491.8" width="10" height="0.8" fill="#b58f60"/>
<rect x="265.56" y="484.5" width="14" height="8.1" fill="#ffffff"/>
<rect x="267.56" y="485.7" width="10" height="3.3" fill="#11aa50"/>
<rect x="267.56" y="489" width="10" height="2" fill="#c9c9cb"/>
<rect x="267.56" y="491" width="10" height="0.8" fill="#0a0a0a"/>
<rect x="267.56" y="491.8" width="10" height="0.8" fill="#b58f60"/>
<rect x="279.7" y="481" width="14" height="11.6" fill="#ffffff"/>
<rect x="281.7" y="482.2" width="10" height="5.6" fill="#11aa50"/>
<rect x="281.7" y="487.8" width="10" height="2.5" fill="#c9c9cb"/>
<rect x="281.7" y="490.3" width="10" height="0.7" fill="#0a0a0a"/>
<rect x="281.7" y="491" width="10" height="1.6" fill="#b58f60"/>
<rect x="293.84" y="470.8" width="14" height="21.8" fill="#ffffff"/>
<rect x="295.84" y="472" width="10" height="11.7" fill="#11aa50"/>
<rect x="295.84" y="483.7" width="10" height="5" fill="#c9c9cb"/>
<rect x="295.84" y="488.7" width="10" height="2.2" fill="#0a0a0a"/>
<rect x="295.84" y="490.9" width="10" height="1.7" fill="#b58f60"/>
<rect x="307.98" y="454.5" width="14" height="38.1" fill="#ffffff"/>
<rect x="309.98" y="455.7" width="10" height="16.8" fill="#11aa50"/>
<rect x="309.98" y="472.5" width="10" height="13.5" fill="#c9c9cb"/>
<rect x="309.98" y="486" width="10" height="3.1" fill="#0a0a0a"/>
<rect x="309.98" y="489.1" width="10" height="3.5" fill="#b58f60"/>
<rect x="322.12" y="446.9" width="14" height="45.7" fill="#ffffff"/>
<rect x="324.12" y="448.1" width="10" height="19.3" fill="#11aa50"/>
<rect x="324.12" y="467.4" width="10" height="16.3" fill="#c9c9cb"/>
<rect x="324.12" y="483.7" width="10" height="3" fill="#0a0a0a"/>
<rect x="324.12" y="486.7" width="10" height="5.9" fill="#b58f60"/>
<rect x="336.26" y="441.9" width="14" height="50.7" fill="#ffffff"/>
<rect x="338.26" y="443.1" width="10" height="21.6" fill="#11aa50"/>
<rect x="338.26" y="464.7" width="10" height="15.5" fill="#c9c9cb"/>
<rect x="338.26" y="480.2" width="10" height="2.6" fill="#0a0a0a"/>
<rect x="338.26" y="482.8" width="10" height="9.8" fill="#b58f60"/>
<rect x="350.4" y="428.8" width="14" height="63.8" fill="#ffffff"/>
<rect x="352.4" y="430" width="10" height="25.7" fill="#11aa50"/>
<rect x="352.4" y="455.7" width="10" height="17.3" fill="#c9c9cb"/>
<rect x="352.4" y="473" width="10" height="3.4" fill="#0a0a0a"/>
<rect x="352.4" y="476.4" width="10" height="16.2" fill="#b58f60"/>
<rect x="364.54" y="416.1" width="14" height="76.5" fill="#ffffff"/>
<rect x="366.54" y="417.3" width="10" height="32.3" fill="#11aa50"/>
<rect x="366.54" y="449.6" width="10" height="16" fill="#c9c9cb"/>
<rect x="366.54" y="465.6" width="10" height="4" fill="#0a0a0a"/>
<rect x="366.54" y="469.6" width="10" height="23" fill="#b58f60"/>
<rect x="378.68" y="404.9" width="14" height="87.7" fill="#ffffff"/>
<rect x="380.68" y="406.1" width="10" height="41.7" fill="#11aa50"/>
<rect x="380.68" y="447.8" width="10" height="10.6" fill="#c9c9cb"/>
<rect x="380.68" y="458.4" width="10" height="4.9" fill="#0a0a0a"/>
<rect x="380.68" y="463.3" width="10" height="29.3" fill="#b58f60"/>
<rect x="392.82" y="391.1" width="14" height="101.5" fill="#ffffff"/>
<rect x="394.82" y="392.3" width="10" height="47.2" fill="#11aa50"/>
<rect x="394.82" y="439.5" width="10" height="10.3" fill="#c9c9cb"/>
<rect x="394.82" y="449.8" width="10" height="5.9" fill="#0a0a0a"/>
<rect x="394.82" y="455.7" width="10" height="36.9" fill="#b58f60"/>
<rect x="406.96" y="370" width="14" height="122.6" fill="#ffffff"/>
<rect x="408.96" y="371.2" width="10" height="56" fill="#11aa50"/>
<rect x="408.96" y="427.2" width="10" height="11.5" fill="#c9c9cb"/>
<rect x="408.96" y="438.7" width="10" height="4.9" fill="#0a0a0a"/>
<rect x="408.96" y="443.6" width="10" height="49" fill="#b58f60"/>
<rect x="421.1" y="355.5" width="14" height="137.1" fill="#ffffff"/>
<rect x="423.1" y="356.7" width="10" height="61.3" fill="#11aa50"/>
<rect x="423.1" y="418" width="10" height="10.8" fill="#c9c9cb"/>
<rect x="423.1" y="428.8" width="10" height="6.5" fill="#0a0a0a"/>
<rect x="423.1" y="435.3" width="10" height="57.3" fill="#b58f60"/>
<rect x="435.24" y="343.8" width="14" height="148.8" fill="#ffffff"/>
<rect x="437.24" y="345" width="10" height="67" fill="#11aa50"/>
<rect x="437.24" y="412" width="10" height="11.3" fill="#c9c9cb"/>
<rect x="437.24" y="423.3" width="10" height="6.3" fill="#0a0a0a"/>
<rect x="437.24" y="429.6" width="10" height="63" fill="#b58f60"/>
<rect x="449.38" y="321.9" width="14" height="170.7" fill="#ffffff"/>
<rect x="451.38" y="323.1" width="10" height="75.2" fill="#11aa50"/>
<rect x="451.38" y="398.3" width="10" height="12" fill="#c9c9cb"/>
<rect x="451.38" y="410.3" width="10" height="6.5" fill="#0a0a0a"/>
<rect x="451.38" y="416.8" width="10" height="75.8" fill="#b58f60"/>
<rect x="463.52" y="312.5" width="14" height="180.1" fill="#ffffff"/>
<rect x="465.52" y="313.7" width="10" height="79.1" fill="#11aa50"/>
<rect x="465.52" y="392.8" width="10" height="13.2" fill="#c9c9cb"/>
<rect x="465.52" y="406" width="10" height="7.2" fill="#0a0a0a"/>
<rect x="465.52" y="413.2" width="10" height="79.4" fill="#b58f60"/>
<rect x="477.66" y="289.8" width="14" height="202.8" fill="#ffffff"/>
<rect x="479.66" y="291" width="10" height="86.6" fill="#11aa50"/>
<rect x="479.66" y="377.6" width="10" height="17.1" fill="#c9c9cb"/>
<rect x="479.66" y="394.7" width="10" height="8.2" fill="#0a0a0a"/>
<rect x="479.66" y="402.9" width="10" height="89.7" fill="#b58f60"/>
<rect x="491.8" y="291.4" width="14" height="201.2" fill="#ffffff"/>
<rect x="493.8" y="292.6" width="10" height="82.3" fill="#11aa50"/>
<rect x="493.8" y="374.9" width="10" height="21.5" fill="#c9c9cb"/>
<rect x="493.8" y="396.4" width="10" height="7.9" fill="#0a0a0a"/>
<rect x="493.8" y="404.3" width="10" height="88.3" fill="#b58f60"/>
<rect x="505.94" y="259.7" width="14" height="232.9" fill="#ffffff"/>
<rect x="507.94" y="260.9" width="10" height="96.6" fill="#11aa50"/>
<rect x="507.94" y="357.5" width="10" height="17.8" fill="#c9c9cb"/>
<rect x="507.94" y="375.3" width="10" height="11.5" fill="#0a0a0a"/>
<rect x="507.94" y="386.8" width="10" height="105.8" fill="#b58f60"/>
<rect x="520.08" y="261.4" width="14" height="231.2" fill="#ffffff"/>
<rect x="522.08" y="262.6" width="10" height="96.4" fill="#11aa50"/>
<rect x="522.08" y="359" width="10" height="15.4" fill="#c9c9cb"/>
<rect x="522.08" y="374.4" width="10" height="11.2" fill="#0a0a0a"/>
<rect x="522.08" y="385.6" width="10" height="107" fill="#b58f60"/>
<rect x="534.22" y="255.4" width="14" height="237.2" fill="#ffffff"/>
<rect x="536.22" y="256.6" width="10" height="101.5" fill="#11aa50"/>
<rect x="536.22" y="358.1" width="10" height="13.8" fill="#c9c9cb"/>
<rect x="536.22" y="371.9" width="10" height="10.1" fill="#0a0a0a"/>
<rect x="536.22" y="382" width="10" height="110.6" fill="#b58f60"/>
<rect x="548.36" y="259.2" width="14" height="233.4" fill="#ffffff"/>
<rect x="550.36" y="260.4" width="10" height="100.7" fill="#11aa50"/>
<rect x="550.36" y="361.1" width="10" height="14.4" fill="#c9c9cb"/>
<rect x="550.36" y="375.5" width="10" height="9.4" fill="#0a0a0a"/>
<rect x="550.36" y="384.9" width="10" height="107.7" fill="#b58f60"/>
<rect x="562.5" y="272.4" width="14" height="220.2" fill="#ffffff"/>
<rect x="564.5" y="273.6" width="10" height="100.7" fill="#11aa50"/>
<rect x="564.5" y="374.3" width="10" height="12.5" fill="#c9c9cb"/>
<rect x="564.5" y="386.8" width="10" height="8.9" fill="#0a0a0a"/>
<rect x="564.5" y="395.7" width="10" height="96.9" fill="#b58f60"/>
<rect x="576.64" y="292" width="14" height="200.6" fill="#ffffff"/>
<rect x="578.64" y="293.2" width="10" height="94.8" fill="#11aa50"/>
<rect x="578.64" y="388" width="10" height="11.7" fill="#c9c9cb"/>
<rect x="578.64" y="399.7" width="10" height="8.3" fill="#0a0a0a"/>
<rect x="578.64" y="408" width="10" height="84.6" fill="#b58f60"/>
<rect x="590.78" y="283" width="14" height="209.6" fill="#ffffff"/>
<rect x="592.78" y="284.2" width="10" height="103.1" fill="#11aa50"/>
<rect x="592.78" y="387.3" width="10" height="10.7" fill="#c9c9cb"/>
<rect x="592.78" y="398" width="10" height="9.7" fill="#0a0a0a"/>
<rect x="592.78" y="407.7" width="10" height="84.9" fill="#b58f60"/>
<rect x="604.92" y="281.9" width="14" height="210.7" fill="#ffffff"/>
<rect x="606.92" y="283.1" width="10" height="105.3" fill="#11aa50"/>
<rect x="606.92" y="388.4" width="10" height="9.4" fill="#c9c9cb"/>
<rect x="606.92" y="397.8" width="10" height="9.7" fill="#0a0a0a"/>
<rect x="606.92" y="407.5" width="10" height="85.1" fill="#b58f60"/>
<rect x="619.06" y="282" width="14" height="210.6" fill="#ffffff"/>
<rect x="621.06" y="283.2" width="10" height="109.4" fill="#11aa50"/>
<rect x="621.06" y="392.6" width="10" height="9" fill="#c9c9cb"/>
<rect x="621.06" y="401.6" width="10" height="9.9" fill="#0a0a0a"/>
<rect x="621.06" y="411.5" width="10" height="81.1" fill="#b58f60"/>
<rect x="633.2" y="269.7" width="14" height="222.9" fill="#ffffff"/>
<rect x="635.2" y="270.9" width="10" height="120.2" fill="#11aa50"/>
<rect x="635.2" y="391.1" width="10" height="9.9" fill="#c9c9cb"/>
<rect x="635.2" y="401" width="10" height="9.8" fill="#0a0a0a"/>
<rect x="635.2" y="410.8" width="10" height="81.8" fill="#b58f60"/>
<rect x="647.34" y="302" width="14" height="190.6" fill="#ffffff"/>
<rect x="649.34" y="303.2" width="10" height="103.8" fill="#11aa50"/>
<rect x="649.34" y="407" width="10" height="7.6" fill="#c9c9cb"/>
<rect x="649.34" y="414.6" width="10" height="9.1" fill="#0a0a0a"/>
<rect x="649.34" y="423.7" width="10" height="68.9" fill="#b58f60"/>
<rect x="661.48" y="306.8" width="14" height="185.8" fill="#ffffff"/>
<rect x="663.48" y="308" width="10" height="100.3" fill="#11aa50"/>
<rect x="663.48" y="408.3" width="10" height="7" fill="#c9c9cb"/>
<rect x="663.48" y="415.3" width="10" height="9.8" fill="#0a0a0a"/>
<rect x="663.48" y="425.1" width="10" height="67.5" fill="#b58f60"/>
<rect x="675.62" y="295.3" width="14" height="197.3" fill="#ffffff"/>
<rect x="677.62" y="296.5" width="10" height="108" fill="#11aa50"/>
<rect x="677.62" y="404.5" width="10" height="6.8" fill="#c9c9cb"/>
<rect x="677.62" y="411.3" width="10" height="11.7" fill="#0a0a0a"/>
<rect x="677.62" y="423" width="10" height="69.6" fill="#b58f60"/>
<rect x="689.76" y="293.8" width="14" height="198.8" fill="#ffffff"/>
<rect x="691.76" y="295" width="10" height="108.3" fill="#11aa50"/>
<rect x="691.76" y="403.3" width="10" height="6.3" fill="#c9c9cb"/>
<rect x="691.76" y="409.6" width="10" height="14.9" fill="#0a0a0a"/>
<rect x="691.76" y="424.5" width="10" height="68.1" fill="#b58f60"/>
<rect x="703.9" y="302.5" width="14" height="190.1" fill="#ffffff"/>
<rect x="705.9" y="303.7" width="10" height="90.5" fill="#11aa50"/>
<rect x="705.9" y="394.2" width="10" height="7.2" fill="#c9c9cb"/>
<rect x="705.9" y="401.4" width="10" height="1.6" fill="#0a0a0a"/>
<rect x="705.9" y="403" width="10" height="28" fill="#fdc010"/>
<rect x="705.9" y="431" width="10" height="61.6" fill="#b58f60"/>
<clipPath id="plotclip"><rect x="100" y="150" width="700" height="343.4"/></clipPath>
<polyline points="145.2,492.4 159.34,492.4 173.48,492.4 187.62,492.4 201.76,492.4 215.9,492.2 230.04,492 244.18,491.6 258.32,490.4 272.46,473.6 286.6,429 300.74,424 314.88,415 329.02,381 343.16,347.6 357.3,314.2 371.44,301.3 385.58,303.6 399.72,292.5 413.86,282.5 428,271 442.14,272 456.28,264.3 470.42,264.3 484.56,260.5 498.7,257.4 512.84,256.5 526.98,257 541.12,259 555.26,263 569.4,276 583.54,284 597.68,291.5 611.82,293.5 625.96,301 640.1,310 654.24,314 668.38,309 682.52,316 696.66,318 710.8,309.5" fill="none" stroke="#f4951a" stroke-width="5.6" stroke-linejoin="round" stroke-linecap="butt" clip-path="url(#plotclip)"/>
<text transform="translate(148.3,498.6) rotate(-90)" font-family="Liberation Sans" font-size="9.6" fill="#3a3a3a" text-anchor="end" textLength="6.2" lengthAdjust="spacingAndGlyphs">1</text>
<text transform="translate(162.44,498.6) rotate(-90)" font-family="Liberation Sans" font-size="9.6" fill="#3a3a3a" text-anchor="end" textLength="6.2" lengthAdjust="spacingAndGlyphs">2</text>
<text transform="translate(176.58,498.6) rotate(-90)" font-family="Liberation Sans" font-size="9.6" fill="#3a3a3a" text-anchor="end" textLength="6.2" lengthAdjust="spacingAndGlyphs">3</text>
<text transform="translate(190.72,498.6) rotate(-90)" font-family="Liberation Sans" font-size="9.6" fill="#3a3a3a" text-anchor="end" textLength="6.2" lengthAdjust="spacingAndGlyphs">4</text>
<text transform="translate(204.86,498.6) rotate(-90)" font-family="Liberation Sans" font-size="9.6" fill="#3a3a3a" text-anchor="end" textLength="6.2" lengthAdjust="spacingAndGlyphs">5</text>
<text transform="translate(219,498.6) rotate(-90)" font-family="Liberation Sans" font-size="9.6" fill="#3a3a3a" text-anchor="end" textLength="6.2" lengthAdjust="spacingAndGlyphs">6</text>
<text transform="translate(233.14,498.6) rotate(-90)" font-family="Liberation Sans" font-size="9.6" fill="#3a3a3a" text-anchor="end" textLength="6.2" lengthAdjust="spacingAndGlyphs">7</text>
<text transform="translate(247.28,498.6) rotate(-90)" font-family="Liberation Sans" font-size="9.6" fill="#3a3a3a" text-anchor="end" textLength="6.2" lengthAdjust="spacingAndGlyphs">8</text>
<text transform="translate(261.42,498.6) rotate(-90)" font-family="Liberation Sans" font-size="9.6" fill="#3a3a3a" text-anchor="end" textLength="6.2" lengthAdjust="spacingAndGlyphs">9</text>
<text transform="translate(275.56,498.6) rotate(-90)" font-family="Liberation Sans" font-size="9.6" fill="#3a3a3a" text-anchor="end" textLength="12.6" lengthAdjust="spacingAndGlyphs">10</text>
<text transform="translate(289.7,498.6) rotate(-90)" font-family="Liberation Sans" font-size="9.6" fill="#3a3a3a" text-anchor="end" textLength="12.6" lengthAdjust="spacingAndGlyphs">11</text>
<text transform="translate(303.84,498.6) rotate(-90)" font-family="Liberation Sans" font-size="9.6" fill="#3a3a3a" text-anchor="end" textLength="12.6" lengthAdjust="spacingAndGlyphs">12</text>
<text transform="translate(317.98,498.6) rotate(-90)" font-family="Liberation Sans" font-size="9.6" fill="#3a3a3a" text-anchor="end" textLength="12.6" lengthAdjust="spacingAndGlyphs">13</text>
<text transform="translate(332.12,498.6) rotate(-90)" font-family="Liberation Sans" font-size="9.6" fill="#3a3a3a" text-anchor="end" textLength="12.6" lengthAdjust="spacingAndGlyphs">14</text>
<text transform="translate(346.26,498.6) rotate(-90)" font-family="Liberation Sans" font-size="9.6" fill="#3a3a3a" text-anchor="end" textLength="12.6" lengthAdjust="spacingAndGlyphs">15</text>
<text transform="translate(360.4,498.6) rotate(-90)" font-family="Liberation Sans" font-size="9.6" fill="#3a3a3a" text-anchor="end" textLength="12.6" lengthAdjust="spacingAndGlyphs">16</text>
<text transform="translate(374.54,498.6) rotate(-90)" font-family="Liberation Sans" font-size="9.6" fill="#3a3a3a" text-anchor="end" textLength="12.6" lengthAdjust="spacingAndGlyphs">17</text>
<text transform="translate(388.68,498.6) rotate(-90)" font-family="Liberation Sans" font-size="9.6" fill="#3a3a3a" text-anchor="end" textLength="12.6" lengthAdjust="spacingAndGlyphs">18</text>
<text transform="translate(402.82,498.6) rotate(-90)" font-family="Liberation Sans" font-size="9.6" fill="#3a3a3a" text-anchor="end" textLength="12.6" lengthAdjust="spacingAndGlyphs">19</text>
<text transform="translate(416.96,498.6) rotate(-90)" font-family="Liberation Sans" font-size="9.6" fill="#3a3a3a" text-anchor="end" textLength="12.6" lengthAdjust="spacingAndGlyphs">20</text>
<text transform="translate(431.1,498.6) rotate(-90)" font-family="Liberation Sans" font-size="9.6" fill="#3a3a3a" text-anchor="end" textLength="12.6" lengthAdjust="spacingAndGlyphs">21</text>
<text transform="translate(445.24,498.6) rotate(-90)" font-family="Liberation Sans" font-size="9.6" fill="#3a3a3a" text-anchor="end" textLength="12.6" lengthAdjust="spacingAndGlyphs">22</text>
<text transform="translate(459.38,498.6) rotate(-90)" font-family="Liberation Sans" font-size="9.6" fill="#3a3a3a" text-anchor="end" textLength="12.6" lengthAdjust="spacingAndGlyphs">23</text>
<text transform="translate(473.52,498.6) rotate(-90)" font-family="Liberation Sans" font-size="9.6" fill="#3a3a3a" text-anchor="end" textLength="12.6" lengthAdjust="spacingAndGlyphs">24</text>
<text transform="translate(487.66,498.6) rotate(-90)" font-family="Liberation Sans" font-size="9.6" fill="#3a3a3a" text-anchor="end" textLength="12.6" lengthAdjust="spacingAndGlyphs">25</text>
<text transform="translate(501.8,498.6) rotate(-90)" font-family="Liberation Sans" font-size="9.6" fill="#3a3a3a" text-anchor="end" textLength="12.6" lengthAdjust="spacingAndGlyphs">26</text>
<text transform="translate(515.94,498.6) rotate(-90)" font-family="Liberation Sans" font-size="9.6" fill="#3a3a3a" text-anchor="end" textLength="12.6" lengthAdjust="spacingAndGlyphs">27</text>
<text transform="translate(530.08,498.6) rotate(-90)" font-family="Liberation Sans" font-size="9.6" fill="#3a3a3a" text-anchor="end" textLength="12.6" lengthAdjust="spacingAndGlyphs">28</text>
<text transform="translate(544.22,498.6) rotate(-90)" font-family="Liberation Sans" font-size="9.6" fill="#3a3a3a" text-anchor="end" textLength="12.6" lengthAdjust="spacingAndGlyphs">29</text>
<text transform="translate(558.36,498.6) rotate(-90)" font-family="Liberation Sans" font-size="9.6" fill="#3a3a3a" text-anchor="end" textLength="12.6" lengthAdjust="spacingAndGlyphs">30</text>
<text transform="translate(572.5,498.6) rotate(-90)" font-family="Liberation Sans" font-size="9.6" fill="#3a3a3a" text-anchor="end" textLength="12.6" lengthAdjust="spacingAndGlyphs">31</text>
<text transform="translate(586.64,498.6) rotate(-90)" font-family="Liberation Sans" font-size="9.6" fill="#3a3a3a" text-anchor="end" textLength="12.6" lengthAdjust="spacingAndGlyphs">32</text>
<text transform="translate(600.78,498.6) rotate(-90)" font-family="Liberation Sans" font-size="9.6" fill="#3a3a3a" text-anchor="end" textLength="12.6" lengthAdjust="spacingAndGlyphs">33</text>
<text transform="translate(614.92,498.6) rotate(-90)" font-family="Liberation Sans" font-size="9.6" fill="#3a3a3a" text-anchor="end" textLength="12.6" lengthAdjust="spacingAndGlyphs">34</text>
<text transform="translate(629.06,498.6) rotate(-90)" font-family="Liberation Sans" font-size="9.6" fill="#3a3a3a" text-anchor="end" textLength="12.6" lengthAdjust="spacingAndGlyphs">35</text>
<text transform="translate(643.2,498.6) rotate(-90)" font-family="Liberation Sans" font-size="9.6" fill="#3a3a3a" text-anchor="end" textLength="12.6" lengthAdjust="spacingAndGlyphs">36</text>
<text transform="translate(657.34,498.6) rotate(-90)" font-family="Liberation Sans" font-size="9.6" fill="#3a3a3a" text-anchor="end" textLength="12.6" lengthAdjust="spacingAndGlyphs">37</text>
<text transform="translate(671.48,498.6) rotate(-90)" font-family="Liberation Sans" font-size="9.6" fill="#3a3a3a" text-anchor="end" textLength="12.6" lengthAdjust="spacingAndGlyphs">38</text>
<text transform="translate(685.62,498.6) rotate(-90)" font-family="Liberation Sans" font-size="9.6" fill="#3a3a3a" text-anchor="end" textLength="12.6" lengthAdjust="spacingAndGlyphs">39</text>
<text transform="translate(699.76,498.6) rotate(-90)" font-family="Liberation Sans" font-size="9.6" fill="#3a3a3a" text-anchor="end" textLength="12.6" lengthAdjust="spacingAndGlyphs">40</text>
<text transform="translate(713.9,498.6) rotate(-90)" font-family="Liberation Sans" font-size="9.6" fill="#3a3a3a" text-anchor="end" textLength="12.6" lengthAdjust="spacingAndGlyphs">41</text>
<text transform="translate(55.2,361.3) rotate(-90)" font-family="Liberation Sans" font-size="14.5" fill="#2f2f2f" text-anchor="middle" textLength="43.5" lengthAdjust="spacingAndGlyphs">Casos</text>
<text transform="translate(782.4,355.7) rotate(-90)" font-family="Liberation Sans" font-size="14.5" fill="#2f2f2f" text-anchor="middle" textLength="93.4" lengthAdjust="spacingAndGlyphs">Positividad</text>
<text x="357.7" y="541" font-family="Liberation Sans" font-size="14.5" font-weight="normal" fill="#2f2f2f" text-anchor="start" textLength="179" lengthAdjust="spacingAndGlyphs">Semana epidemiológica</text>
<g>
<path id="ringp" d="M 991.4 63.2 A 16.8 16.8 0 1 1 1025 63.2 A 16.8 16.8 0 1 1 991.4 63.2" fill="none"/>
<text font-family="Liberation Sans" font-size="5.2" font-weight="bold" fill="#cfbb98"><textPath href="#ringp" textLength="104" lengthAdjust="spacing">ESTADOS UNIDOS MEXICANOS · ESTADOS UNIDOS</textPath></text>
<circle cx="1008.2" cy="63.2" r="14.6" fill="none" stroke="#e2d4ba" stroke-width="0.9"/>
<path d="M999 58 C 1001 52, 1008 49, 1013 51 C 1017 53, 1019 57, 1021 61 C 1019 60, 1017 60, 1016 61 C 1018 65, 1017 69, 1013 71 C 1009 72, 1004 71, 1001 68 C 1003 66, 1002 62, 999 58 Z" fill="#dccaa8"/>
<path d="M1003 56 C 1006 54, 1010 54, 1012 57 M 1004 61 C 1007 60, 1011 61, 1014 64 M 1005 66 C 1008 66, 1011 67, 1013 69" fill="none" stroke="#f7f1e6" stroke-width="1.1"/>
<path d="M996 70 C 1001 76, 1015 76, 1020 70" fill="none" stroke="#d5c19d" stroke-width="1.8"/>
<path d="M998 66 C 997 70, 998 72, 1000 73 M 1018 66 C 1019 70, 1018 72, 1016 73" fill="none" stroke="#d9c7a6" stroke-width="1.2"/>
</g>
<text x="1036.8" y="66.6" font-family="Liberation Serif" font-size="26.5" font-weight="bold" fill="#7d1f40" text-anchor="start" textLength="89.8" lengthAdjust="spacingAndGlyphs">SALUD</text>
<text x="1037" y="78.2" font-family="Liberation Sans" font-size="5.6" font-weight="bold" fill="#9d8f7d" textLength="76" lengthAdjust="spacing">SECRETARÍA DE SALUD</text>
<rect x="988.5" y="113.7" width="138.8" height="96.1" fill="#fd8b0e"/>
<text x="1010" y="172.5" font-family="Liberation Sans" font-size="29.5" font-weight="bold" fill="#ffffff" text-anchor="start" textLength="94.6" lengthAdjust="spacingAndGlyphs">Fase 3</text>
<text x="1001.5" y="227.6" font-family="Liberation Sans" font-size="14.2" font-weight="bold" fill="#6f1d3c" text-anchor="start" textLength="114.6" lengthAdjust="spacingAndGlyphs">19 octubre, 2020</text>
<rect x="805.5" y="241.3" width="181.9" height="58.5" rx="6" fill="#6a1535"/>
<text x="827.6" y="281.3" font-family="Liberation Sans" font-size="31" font-weight="bold" fill="#ffffff" text-anchor="start" textLength="137.7" lengthAdjust="spacingAndGlyphs">2,187,985</text>
<rect x="805.5" y="307.5" width="182.5" height="58.9" rx="6" fill="#fe9309"/>
<text x="859.1" y="349.6" font-family="Liberation Sans" font-size="33" font-weight="bold" fill="#ffffff" text-anchor="start" textLength="75.7" lengthAdjust="spacingAndGlyphs">40%</text>
<text x="996.7" y="264.3" font-family="Liberation Sans" font-size="19" font-weight="bold" fill="#3a3a3a" text-anchor="start" textLength="93.7" lengthAdjust="spacingAndGlyphs">Personas</text>
<text x="996.7" y="287.7" font-family="Liberation Sans" font-size="19" font-weight="bold" fill="#3a3a3a" text-anchor="start" textLength="113.5" lengthAdjust="spacingAndGlyphs">notificadas</text>
<text x="996.7" y="326.8" font-family="Liberation Sans" font-size="19" font-weight="bold" fill="#3a3a3a" text-anchor="start" textLength="113.5" lengthAdjust="spacingAndGlyphs">Positividad</text>
<text x="996.7" y="350.8" font-family="Liberation Sans" font-size="19" font-weight="bold" fill="#3a3a3a" text-anchor="start" textLength="51.3" lengthAdjust="spacingAndGlyphs">SE 41</text>
<rect x="36.6" y="563.4" width="125.6" height="29.2" rx="4" fill="#15a851"/>
<text x="51.4" y="584.3" font-family="Liberation Sans" font-size="20" font-weight="bold" fill="#ffffff" text-anchor="start" textLength="96.1" lengthAdjust="spacingAndGlyphs">1,024,804</text>
<text x="169.2" y="582.9" font-family="Liberation Sans" font-size="16" font-weight="normal" fill="#454545" text-anchor="start" textLength="73.3" lengthAdjust="spacingAndGlyphs">Negativos</text>
<rect x="36.6" y="601" width="125.6" height="28.3" rx="4" fill="#b08e64"/>
<text x="59.8" y="621.8" font-family="Liberation Sans" font-size="20" font-weight="bold" fill="#ffffff" text-anchor="start" textLength="80.3" lengthAdjust="spacingAndGlyphs">854,926</text>
<text x="169.6" y="620.9" font-family="Liberation Sans" font-size="16" font-weight="normal" fill="#454545" text-anchor="start" textLength="95.7" lengthAdjust="spacingAndGlyphs">Confirmados</text>
<rect x="276.4" y="563.3" width="125.3" height="28.4" rx="4" fill="#c9c8c8"/>
<text x="301.7" y="583.5" font-family="Liberation Sans" font-size="20" font-weight="bold" fill="#333333" text-anchor="start" textLength="74.4" lengthAdjust="spacingAndGlyphs">176,742</text>
<text x="408.8" y="582.7" font-family="Liberation Sans" font-size="16" font-weight="normal" fill="#454545" text-anchor="start" textLength="129.3" lengthAdjust="spacingAndGlyphs">Sosp. sin muestra</text>
<rect x="277.5" y="601.1" width="125.4" height="27.7" rx="4" fill="#050505"/>
<text x="307.6" y="621.4" font-family="Liberation Sans" font-size="20" font-weight="bold" fill="#ffffff" text-anchor="start" textLength="65" lengthAdjust="spacingAndGlyphs">97,627</text>
<text x="408.8" y="612" font-family="Liberation Sans" font-size="13.5" font-weight="normal" fill="#4a4a4a" text-anchor="start" textLength="123.4" lengthAdjust="spacingAndGlyphs">Sosp. sin posibilidad</text>
<text x="408.8" y="626.2" font-family="Liberation Sans" font-size="13.5" font-weight="normal" fill="#4a4a4a" text-anchor="start" textLength="77.3" lengthAdjust="spacingAndGlyphs">de resultado</text>
<rect x="549" y="563.3" width="125.8" height="28.4" rx="4" fill="#fdc10e"/>
<text x="579" y="583.5" font-family="Liberation Sans" font-size="20" font-weight="bold" fill="#3b301c" text-anchor="start" textLength="66.2" lengthAdjust="spacingAndGlyphs">33,886</text>
<text x="681.9" y="573" font-family="Liberation Sans" font-size="13.5" font-weight="normal" fill="#4a4a4a" text-anchor="start" textLength="128.8" lengthAdjust="spacingAndGlyphs">Sosp. con posibilidad</text>
<text x="681.9" y="587.2" font-family="Liberation Sans" font-size="13.5" font-weight="normal" fill="#4a4a4a" text-anchor="start" textLength="76.8" lengthAdjust="spacingAndGlyphs">de resultado</text>
<rect x="549" y="600.4" width="125.3" height="27.9" rx="4" fill="#797ef6"/>
<text x="577.8" y="620.9" font-family="Liberation Sans" font-size="20" font-weight="bold" fill="#ffffff" text-anchor="start" textLength="66.2" lengthAdjust="spacingAndGlyphs">86,338</text>
<text x="681.9" y="612" font-family="Liberation Sans" font-size="13.5" font-weight="normal" fill="#4a4a4a" text-anchor="start" textLength="78" lengthAdjust="spacingAndGlyphs">Defunciones</text>
<text x="681.9" y="626.4" font-family="Liberation Sans" font-size="13.5" font-weight="normal" fill="#4a4a4a" text-anchor="start" textLength="76.8" lengthAdjust="spacingAndGlyphs">confirmadas</text>
<rect x="0" y="643.8" width="1184" height="22.2" fill="#dfc9a3"/>
<text x="9.6" y="659.6" font-family="Liberation Sans" font-size="11.6" font-weight="normal" fill="#4a3e2e" text-anchor="start" textLength="545.4" lengthAdjust="spacingAndGlyphs">Fuente: SSA(SPPS/DGE/InDRE/Informe técnico.COVID-19 /México- 19 octubre 2020 (corte 9:00hrs)</text>
</svg>
</body></html>
